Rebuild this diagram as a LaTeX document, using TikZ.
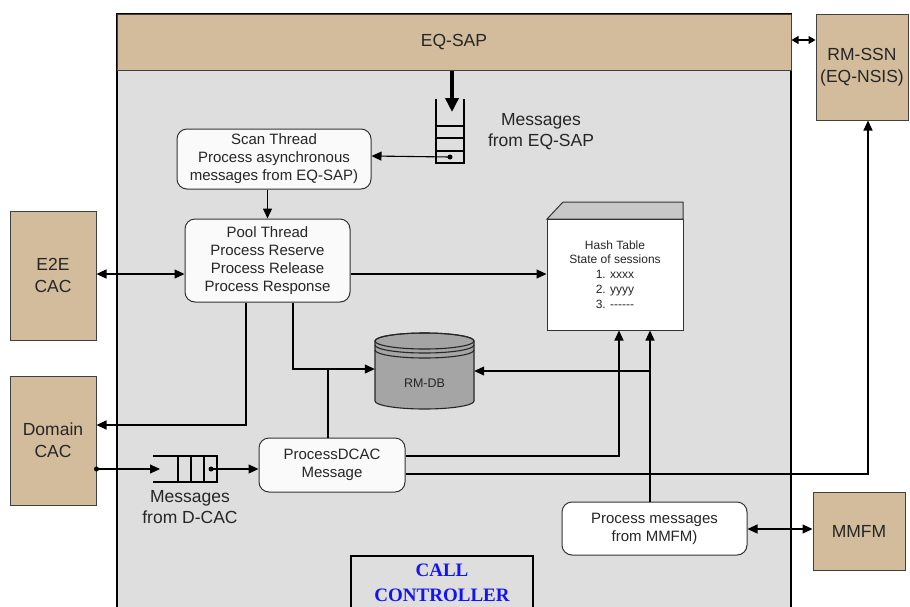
\documentclass[tikz,border=0pt]{standalone}
\usepackage{fontspec}
\setmainfont{Liberation Sans}
\newfontfamily\ccfont{Liberation Serif}
\usetikzlibrary{arrows.meta,calc}
\definecolor{tan}{RGB}{210,188,156}
\definecolor{bggray}{RGB}{222,222,222}
\definecolor{txt}{RGB}{38,38,38}
\definecolor{dbgray}{RGB}{165,165,165}
\definecolor{topgray}{RGB}{200,200,200}
\definecolor{ccblue}{RGB}{20,20,240}
\begin{document}
\begin{tikzpicture}[x=1pt,y=-1pt,
  ext/.style={draw=black!75, fill=tan, line width=1pt, inner sep=0pt, align=center, text=txt, font=\fontsize{17.5}{22}\selectfont},
  proc/.style={draw=black!80, fill=white!98!black, line width=1pt, rounded corners=10pt, inner sep=0pt, align=center, text=txt, font=\fontsize{15}{18}\selectfont},
  conn/.style={line width=1.1pt, draw=black},
  arr/.style={conn, -{Triangle[length=10pt,width=9pt]}},
  darr/.style={conn, {Triangle[length=10pt,width=9pt]}-{Triangle[length=10pt,width=9pt]}},
  sdarr/.style={conn, {Triangle[length=7pt,width=8pt]}-{Triangle[length=7pt,width=8pt]}},
  lbl/.style={align=center, text=txt, inner sep=0pt, font=\fontsize{17.5}{21}\selectfont},
  dot/.style={circle, fill=black, inner sep=0pt, minimum size=5pt},
]
\useasboundingbox (0,0) rectangle (910,606);
\fill[white] (0,0) rectangle (910,606);
% main container
\draw[line width=1.2pt, fill=bggray] (117,640) -- (117,14) -- (791,14) -- (791,640);
\node[ext, minimum width=674pt, minimum height=56pt] (eqsap) at (454,42) {EQ-SAP};

% external boxes
\node[ext, minimum width=92pt, minimum height=106pt] (rmssn) at (862,67) {RM-SSN\\(EQ-NSIS)};
\node[ext, minimum width=86pt, minimum height=129pt] (e2e) at (53,275.5) {E2E\\CAC};
\node[ext, minimum width=86pt, minimum height=129pt] (dcac) at (53,440.5) {Domain\\CAC};
\node[ext, minimum width=92pt, minimum height=78pt] (mmfm) at (859,531) {MMFM};

% process boxes
\node[proc, minimum width=194pt, minimum height=60pt] (scan) at (274,159) {Scan Thread\\Process asynchronous\\messages from EQ-SAP)};
\node[proc, minimum width=165pt, minimum height=83pt] (pool) at (267.5,260.5) {Pool Thread\\Process Reserve\\Process Release\\Process Response};
\node[proc, minimum width=146pt, minimum height=54pt] (pdcac) at (332,465) {ProcessDCAC\\Message};
\node[proc, fill=white, minimum width=185pt, minimum height=53pt] (pmmfm) at (654.5,528.5) {Process messages\\from MMFM)};

% hash table (3-D box)
\filldraw[fill=topgray, draw=black!80, line width=1pt] (547,219) -- (563,202) -- (683,202) -- (683,219) -- cycle;
\node[draw=black!80, fill=white, line width=1pt, minimum width=136pt, minimum height=111pt, inner sep=0pt, align=center, text=txt, font=\fontsize{12}{14.8}\selectfont] (hash) at (615,274.5) {Hash Table\\State of sessions\\1. xxxx\\2. yyyy\\3. -{}-{}-{}-{}-{}-};

% RM-DB cylinder
\begin{scope}[line width=1.1pt]
\filldraw[fill=dbgray, draw=black!85] (375,341) -- (375,401) arc[start angle=180, end angle=0, x radius=49.5, y radius=8] -- (474,341) arc[start angle=0, end angle=-180, x radius=49.5, y radius=8] -- cycle;
\draw[black!85] (424.5,341) ellipse[x radius=49.5, y radius=8];
\draw[black!85] (375,345) arc[start angle=180, end angle=0, x radius=49.5, y radius=8];
\draw[black!85] (375,350) arc[start angle=180, end angle=0, x radius=49.5, y radius=8];
\end{scope}
\node[inner sep=0pt, minimum width=99pt, minimum height=68pt] (db) at (424.5,370) {};
\node[inner sep=0pt, text=txt, font=\fontsize{12.5}{14}\selectfont] (dblabel) at (424.5,383) {RM-DB};

% queue from EQ-SAP (vertical)
\draw[conn] (436,99) -- (436,163) -- (464,163) -- (464,99);
\draw[conn] (436,126) -- (464,126) (436,138) -- (464,138) (436,151) -- (464,151);
\node[dot] (q1dot) at (450,157) {};
\coordinate (q1in) at (452,112);
\draw[line width=3.8pt, -{Triangle[length=14pt,width=13pt]}] (eqsap.south -| q1in) -- (q1in);
\node[lbl] (msg1) at (541,132) {Messages\\from EQ-SAP};

% queue from D-CAC (horizontal)
\draw[conn] (153,456) -- (217,456) -- (217,482) -- (153,482);
\draw[conn] (178,456) -- (178,482) (191,456) -- (191,482) (204,456) -- (204,482);
\node[dot] (q2dot) at (211,469) {};
\node[lbl] (msg2) at (190,507) {Messages\\from D-CAC};

% connectors
\draw[arr] (q1dot.center) -- ([yshift=3pt]scan.east);
\draw[arr] (pool.north |- scan.south) -- (pool.north);
\coordinate (h274) at (0,274);
\draw[darr] (e2e.east |- h274) -- (pool.west |- h274);
\draw[arr] (pool.east |- h274) -- (hash.west |- h274);
\coordinate (j1) at (293,369);
\draw[arr] (pool.south -| j1) |- (db.west |- j1);
\coordinate (j2) at (328,369);
\draw[conn] (pdcac.north -| j2) -- (j2);
\coordinate (j3) at (246,425);
\draw[arr] (pool.south -| j3) |- (dcac.east |- j3);
\coordinate (d1) at (0,469);
\node[dot] (ddot) at (dcac.east |- d1) {};
\coordinate (q2in) at (160,469);
\draw[arr] (ddot.center) -- (q2in);
\draw[arr] (q2dot.center) -- (pdcac.west |- q2dot);
\coordinate (k1) at (619,456);
\draw[arr] (pdcac.east |- k1) -| (hash.south -| k1);
\coordinate (k2) at (868,474);
\draw[arr] (pdcac.east |- k2) -| (rmssn.south -| k2);
\coordinate (k3) at (650,371);
\draw[arr] (pmmfm.north -| k3) -- (hash.south -| k3);
\draw[arr] (k3) -- (db.east |- k3);
\coordinate (k4) at (0,529);
\draw[darr] (pmmfm.east |- k4) -- (mmfm.west |- k4);
\coordinate (k5) at (0,40);
\draw[sdarr] (eqsap.east |- k5) -- (rmssn.west |- k5);

% call controller label box
\draw[line width=1.2pt, fill=bggray] (351,640) -- (351,556) -- (533,556) -- (533,640);
\node[align=center, inner sep=0pt, text=ccblue, font={\ccfont\bfseries\fontsize{19}{25}\selectfont}] (cc) at (442,583) {CALL\\CONTROLLER};
\end{tikzpicture}
\end{document}
